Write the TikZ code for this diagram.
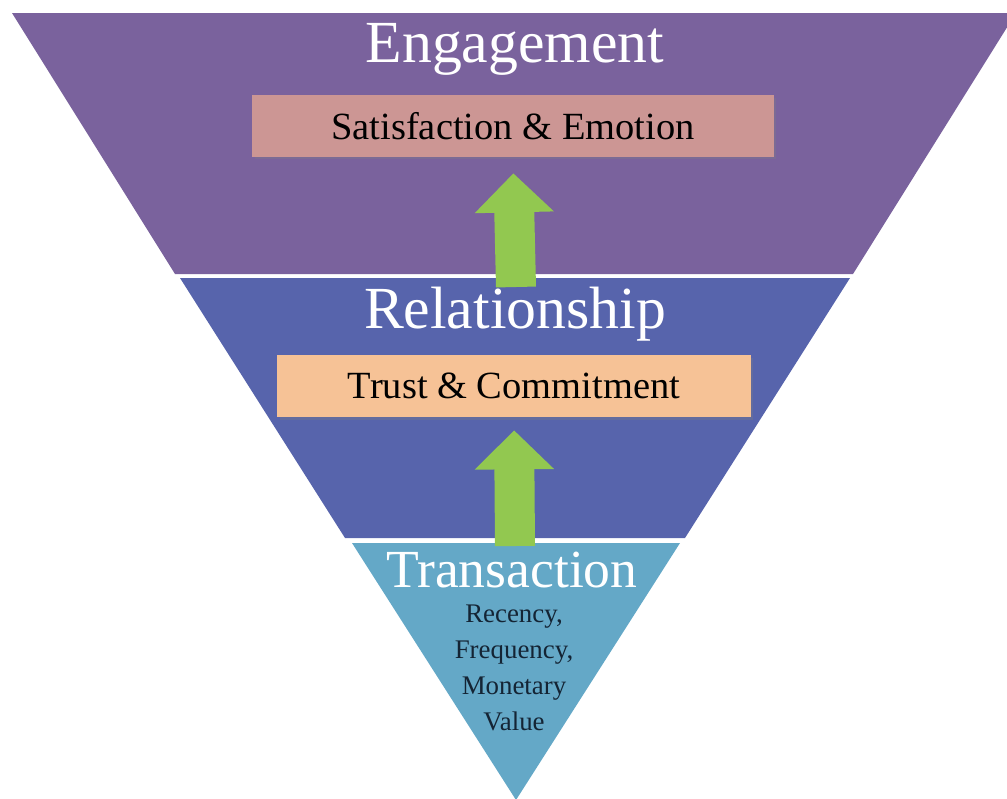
\documentclass[tikz,border=0pt]{standalone}
\usepackage{fontspec}
\setmainfont{Liberation Serif}
\usetikzlibrary{arrows.meta,shadows}
\definecolor{engage}{RGB}{122,98,157}
\definecolor{relate}{RGB}{87,100,172}
\definecolor{trans}{RGB}{100,168,199}
\definecolor{satis}{RGB}{204,150,148}
\definecolor{trust}{RGB}{246,194,150}
\definecolor{upgreen}{RGB}{146,200,80}
\definecolor{rfmtext}{RGB}{20,36,52}
\begin{document}
\begin{tikzpicture}[x=0.02cm, y=-0.02cm,
    title/.style={white, anchor=base, font=\fontsize{34}{40}\selectfont},
    box/.style={minimum height=1.24cm, inner sep=0pt, font=\fontsize{21.9}{26}\selectfont,
        drop shadow={shadow xshift=0.05cm, shadow yshift=-0.05cm, opacity=0.3}},
    rfm/.style={rfmtext, anchor=base, font=\fontsize{15.3}{18}\selectfont},
    lift/.style={upgreen, line width=0.8cm, -{Triangle[width=1.54cm, length=0.78cm]}}]
    \useasboundingbox (0,0) rectangle (1007,798);
    \clip (0,0) rectangle (1007,798);
    % funnel bands
    \fill[engage] (12,13) -- (1016,13) -- (853,274) -- (175,274) -- cycle;
    \fill[relate] (180,278) -- (850,278) -- (685,538) -- (345,538) -- cycle;
    \fill[trans] (352,543) -- (680,543) -- (516,800) -- cycle;
    % titles
    \node[title] (engtitle) at (515,62) {Engagement};
    \node[title] (reltitle) at (515,328) {Relationship};
    \node[title, font=\fontsize{30.5}{36}\selectfont] (transtitle) at (512,587) {Transaction};
    % boxes
    \node[box, fill=satis, minimum width=10.44cm] (satis) at (513,126) {Satisfaction \& Emotion};
    \node[box, fill=trust, minimum width=9.48cm] (trust) at (514,386) {Trust \& Commitment};
    \foreach \word [count=\i] in {{Recency,},{Frequency,},{Monetary},{Value}}
        \node[rfm] (rfm\i) at (514,586+36*\i) {\word};
    % arrows
    \coordinate (relfoot) at (516,287);
    \coordinate (transfoot) at (515,546);
    \draw[lift, shorten >=0.32cm] (relfoot) -- (satis.south);
    \draw[lift, shorten >=0.26cm] (transfoot) -- (trust.south);
\end{tikzpicture}
\end{document}
